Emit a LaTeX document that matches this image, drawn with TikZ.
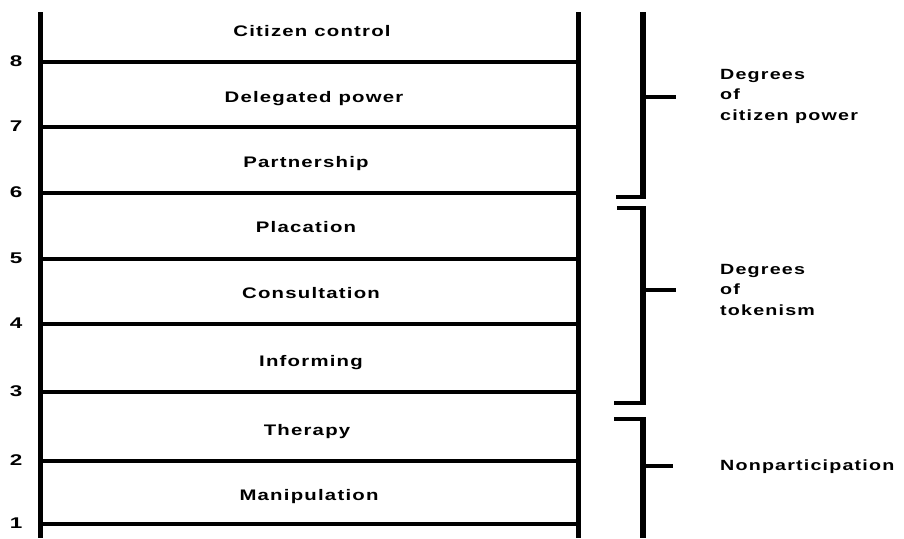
\documentclass[tikz,border=0pt]{standalone}
\usepackage{fontspec}
\newfontfamily\ladderfont{Liberation Sans Bold}[FakeStretch=1.33,LetterSpace=8]
\newfontfamily\digitfont{Liberation Sans Bold}[FakeStretch=1.45]
\begin{document}
\begin{tikzpicture}[x=1pt,y=-1pt,
  rail/.style={line width=5pt},
  rung/.style={line width=4pt},
  brack/.style={line width=5.5pt},
  hook/.style={line width=4pt},
  tick/.style={line width=3.5pt},
  lbl/.style={font=\ladderfont\fontsize{15.3}{18}\selectfont, anchor=base, inner sep=0pt},
  side/.style={font=\ladderfont\fontsize{14.8}{18}\selectfont, anchor=base west, inner sep=0pt},
  num/.style={font=\digitfont\fontsize{15.5}{16}\selectfont, anchor=center, inner sep=0pt}]
\useasboundingbox (0,0) rectangle (904,538);
% rails
\coordinate (LT) at (40,12);
\coordinate (LB) at (40,538);
\coordinate (RT) at (578,12);
\coordinate (RB) at (578,538);
\draw[rail] (LT) -- (LB);
\draw[rail] (RT) -- (RB);
% rungs and numbers
\foreach \i/\y in {8/62,7/127,6/193,5/259,4/324,3/392,2/461,1/524}{
  \coordinate (a\i) at (40,\y);
  \coordinate (b\i) at (578,\y);
  \draw[rung] (a\i) -- (b\i);
  \node[num] (num\i) at (16,\y-1) {\i};
}
% rung labels
\node[lbl] (r8) at (312,36) {Citizen control};
\node[lbl] (r7) at (314,102.5) {Delegated power};
\node[lbl] (r6) at (306,167) {Partnership};
\node[lbl] (r5) at (306,232) {Placation};
\node[lbl] (r4) at (311,298) {Consultation};
\node[lbl] (r3) at (311,366) {Informing};
\node[lbl] (r2) at (307,435) {Therapy};
\node[lbl] (r1) at (309,500) {Manipulation};
% brackets
\coordinate (p1) at (643,12);
\coordinate (p2) at (643,197);
\coordinate (p3) at (616,197);
\coordinate (pm) at (643,97);
\coordinate (pt) at (676,97);
\draw[brack] (p1) -- (p2);
\draw[hook] ([xshift=2.75pt]p2) -- (p3);
\draw[tick] (pm) -- (pt);
\coordinate (t0) at (617,208);
\coordinate (t1) at (643,208);
\coordinate (t2) at (643,403);
\coordinate (t3) at (614,403);
\coordinate (tm) at (643,290);
\coordinate (tt) at (676,290);
\draw[hook] (t0) -- ([xshift=2.75pt]t1);
\draw[brack] ([yshift=-2pt]t1) -- ([yshift=2pt]t2);
\draw[hook] ([xshift=2.75pt]t2) -- (t3);
\draw[tick] (tm) -- (tt);
\coordinate (n0) at (614,419);
\coordinate (n1) at (643,419);
\coordinate (n2) at (643,538);
\coordinate (nm) at (643,466);
\coordinate (nt) at (673,466);
\draw[hook] (n0) -- ([xshift=2.75pt]n1);
\draw[brack] ([yshift=-2pt]n1) -- (n2);
\draw[tick] (nm) -- (nt);
% side labels
\node[side] (s1) at (720,79) {Degrees};
\node[side] (s2) at (720,99) {of};
\node[side] (s3) at (720,120) {citizen power};
\node[side] (s4) at (720,274) {Degrees};
\node[side] (s5) at (720,294) {of};
\node[side] (s6) at (720,315) {tokenism};
\node[side] (s7) at (720,470) {Nonparticipation};
\end{tikzpicture}
\end{document}
